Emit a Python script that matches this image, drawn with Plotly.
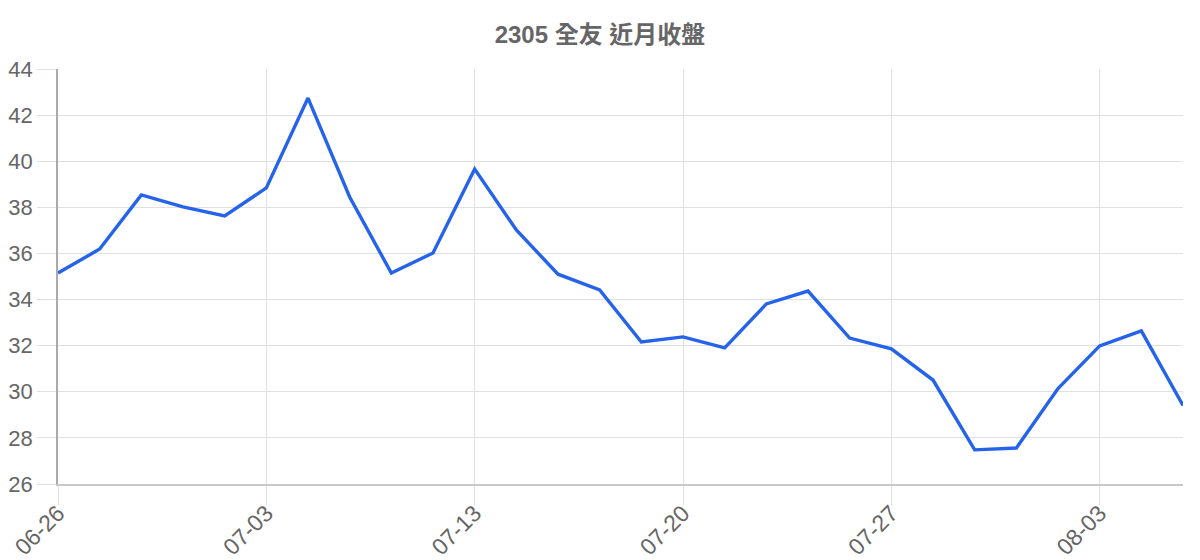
import plotly.graph_objects as go

dates = ["06-26", "06-27", "06-28", "06-29", "06-30",
         "07-03", "07-04", "07-05", "07-06", "07-07",
         "07-13", "07-14", "07-17", "07-18", "07-19",
         "07-20", "07-21", "07-24", "07-25", "07-26",
         "07-27", "07-28", "07-31", "08-01", "08-02",
         "08-03", "08-04", "08-07"]
closes = [35.15, 36.19, 38.54, 38.02, 37.63,
          38.84, 42.74, 38.45, 35.15, 36.02,
          39.66, 37.02, 35.10, 34.42, 32.16,
          32.38, 31.90, 33.81, 34.37, 32.33,
          31.86, 30.51, 27.48, 27.56, 30.14,
          31.99, 32.64, 29.41]
tick_labels = ["06-26", "07-03", "07-13", "07-20", "07-27", "08-03"]
y_ticks = [26, 28, 30, 32, 34, 36, 38, 40, 42, 44]
title_text = "2305 全友 近月收盤"

FONT = "Liberation Sans, Arial, Noto Sans CJK TC, sans-serif"
GRID = "#e0e0e0"
TXT = "#666666"

fig = go.Figure()
fig.add_trace(go.Scatter(
    x=dates, y=closes, mode="lines",
    line=dict(color="#2563eb", width=3.4),
    hoverinfo="x+y",
))

fig.update_layout(
    width=1200, height=560,
    margin=dict(l=58, r=17, t=69, b=76),
    paper_bgcolor="white", plot_bgcolor="white",
    showlegend=False,
    title=dict(text="<b>" + title_text + "</b>", x=0.5, xref="container",
               xanchor="center",
               y=1 - 35 / 560, yref="container", yanchor="middle",
               font=dict(family=FONT, size=24, color=TXT)),
    font=dict(family=FONT, color=TXT),
)

fig.update_xaxes(
    type="category",
    range=[0, len(dates) - 1],
    automargin=False,
    tickmode="array", tickvals=tick_labels, ticktext=tick_labels,
    tickangle=-45,
    ticklabelstandoff=-14,
    showgrid=True, gridcolor=GRID, gridwidth=1.2,
    ticks="outside", ticklen=19, tickcolor=GRID, tickwidth=1.2,
    showline=True, linecolor="#c8c8c8", linewidth=1.5,
    zeroline=False,
    tickfont=dict(family=FONT, size=23, color=TXT),
)
fig.update_yaxes(
    range=[26, 44],
    automargin=False,
    tickmode="array", tickvals=y_ticks,
    showgrid=True, gridcolor=GRID, gridwidth=1.2,
    ticks="outside", ticklen=19, tickcolor=GRID, tickwidth=1.2,
    showline=True, linecolor="#aaaaaa", linewidth=1.5,
    zeroline=False,
    tickfont=dict(family=FONT, size=22, color=TXT),
)

fig.write_html(
    "out.html",
    config={"displayModeBar": False},
    post_script="document.body.style.margin='0';document.body.style.padding='0';",
)
